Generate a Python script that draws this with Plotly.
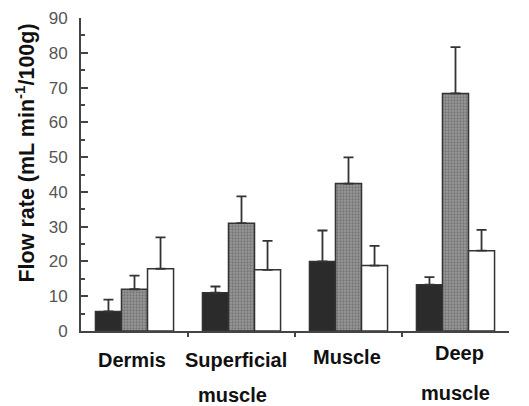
import plotly.graph_objects as go

categories = ["Dermis", "Superficial<br>muscle", "Muscle", "Deep<br>muscle"]
black_vals = [5.6, 11.0, 20.0, 13.3]
black_err = [3.4, 1.8, 8.9, 2.2]
gray_vals = [12.0, 31.0, 42.4, 68.3]
gray_err = [3.9, 7.7, 7.5, 13.3]
white_vals = [17.9, 17.6, 18.8, 23.1]
white_err = [9.0, 8.3, 5.7, 6.0]
y_ticks = [0, 10, 20, 30, 40, 50, 60, 70, 80, 90]

xs = list(range(len(categories)))
edge = "#333333"

def bar(vals, err, fill, pattern=None):
    return go.Bar(
        x=xs, y=vals,
        marker=dict(color=fill, line=dict(color=edge, width=1.5),
                    pattern=pattern if pattern else {}),
        error_y=dict(type="data", array=err, arrayminus=[0] * len(err), symmetric=False,
                     color=edge, thickness=1.8, width=5),
        showlegend=False,
    )

fig = go.Figure()
fig.add_trace(bar(black_vals, black_err, "#2b2b2b"))
fig.add_trace(bar(gray_vals, gray_err, "#8a8a8a",
                  dict(shape=".", fgcolor="#505050", bgcolor="#999999", size=3, solidity=0.45)))
fig.add_trace(bar(white_vals, white_err, "#ffffff"))

fig.update_layout(
    width=529, height=406,
    margin=dict(l=73, r=28, t=10, b=83, autoexpand=False),
    paper_bgcolor="white", plot_bgcolor="white",
    barmode="group", bargap=0.27, bargroupgap=0,
    font=dict(family="Liberation Sans, Arial, sans-serif"),
    xaxis=dict(range=[-0.5, 3.5], showgrid=False, zeroline=False, automargin=False,
               showline=True, linecolor="#444", linewidth=2,
               tickmode="array", tickvals=[0.5, 1.5, 2.5], showticklabels=False,
               ticks="outside", ticklen=4, tickwidth=1.5, tickcolor="#444"),
    yaxis=dict(range=[0, 90], showgrid=False, zeroline=False, automargin=False,
               showline=True, linecolor="#444", linewidth=2,
               tickmode="array", tickvals=y_ticks,
               ticks="inside", ticklen=7, tickwidth=2, tickcolor="#444",
               minor=dict(dtick=5, ticks="inside", ticklen=4, tickwidth=1.5, tickcolor="#444"),
               tickfont=dict(size=17, color="#555"), ticklabelstandoff=8),
)

# category labels: (x offset line1, y line1, x offset line2, y line2) in axis / paper units
label_pos = [(-0.028, -0.093, 0, 0), (-0.051, -0.093, -0.081, -0.206),
             (-0.014, -0.083, 0, 0), (0.037, -0.070, 0.002, -0.198)]
for i, (cat, pos) in enumerate(zip(categories, label_pos)):
    parts = cat.split("<br>")
    for j, p in enumerate(parts):
        fig.add_annotation(x=xs[i] + pos[2 * j], y=pos[2 * j + 1],
                           xref="x", yref="paper", text=p, showarrow=False,
                           font=dict(size=20, color="#111", weight="bold"),
                           xanchor="center", yanchor="middle")

fig.add_annotation(x=-0.131, y=0.57, xref="paper", yref="paper",
                   text="Flow rate (mL min<sup>-1</sup>/100g)", textangle=-90,
                   showarrow=False, font=dict(size=21.5, color="#111", weight="bold"),
                   xanchor="center", yanchor="middle")

fig.write_html("out.html")
